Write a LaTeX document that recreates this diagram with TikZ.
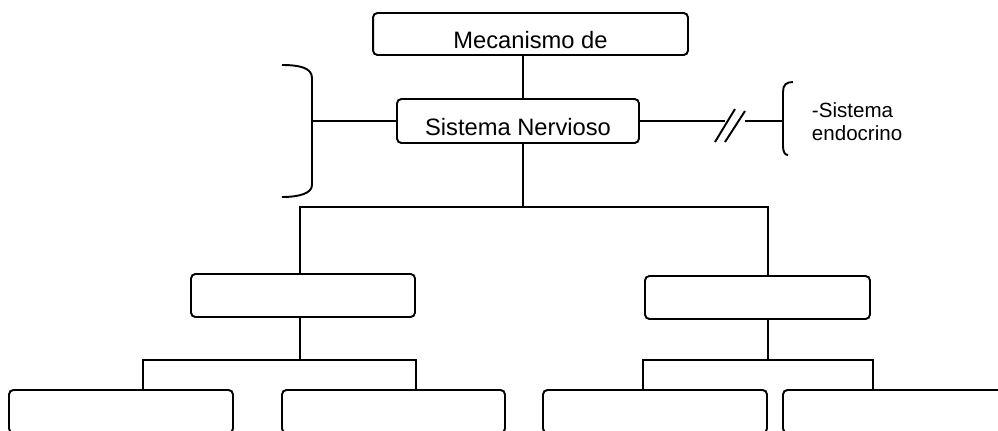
\documentclass[tikz,border=0pt]{standalone}
\usepackage{fontspec}
\setmainfont{Liberation Sans}
\begin{document}
\begin{tikzpicture}[x=0.02cm,y=-0.02cm,line width=1.1pt]
	\useasboundingbox (0,0) rectangle (998,430);
	\tikzstyle{every node}=[font=\fontsize{13.5}{16}\selectfont];
	\tikzstyle{caja}=[draw,rounded corners=2.5pt,inner sep=0pt,text height=16pt,text depth=0pt,minimum width=4.48cm,minimum height=0.86cm];
	% cajas
	\path (530.5,34) node[caja,minimum width=6.3cm,minimum height=0.84cm] (mec) {Mecanismo de};
	\path (518,121) node[caja,minimum width=4.84cm,minimum height=0.88cm] (sn) {Sistema Nervioso};
	\path (303,295.5) node[caja] (lm) {};
	\path (757.5,297.5) node[caja,minimum width=4.5cm] (rm) {};
	\path (121,411.5) node[caja] (ll) {};
	\path (393.5,411.5) node[caja,minimum width=4.46cm] (lr) {};
	\path (655,411.5) node[caja] (rl) {};
	\path (895,411.5) node[caja] (rr) {};
	\path (811,122) node[anchor=west,inner sep=0pt,align=left,font=\fontsize{11.7}{13}\selectfont] (endo) {-Sistema\\endocrino};
	% puntos de union
	\coordinate (eje) at (523,0);
	\coordinate (barI) at (300,207);
	\coordinate (barD) at (768,207);
	\coordinate (bI1) at (143,360);
	\coordinate (bI2) at (416,360);
	\coordinate (bD1) at (643,360);
	\coordinate (bD2) at (873,360);
	\coordinate (llave) at (312,121);
	\coordinate (cutA) at (725,121);
	\coordinate (cutB) at (745,121);
	\coordinate (rllave) at (783,121);
	% llaves
	\draw (282,65) .. controls (300,65) and (312,68) .. (312,78) -- (312,185) .. controls (312,193) and (300,197) .. (282,197);
	\draw (793,82) .. controls (786,82) and (783,85) .. (783,92) -- (783,146) .. controls (783,152) and (785,155) .. (788,155);
	\draw (llave) -- (sn.west);
	\draw (sn.east) -- (cutA);
	\draw (cutB) -- (rllave);
	\draw (715,142) -- (735,109);
	\draw (725,142) -- (745,111);
	% arbol
	\draw (eje |- mec.south) -- (eje |- sn.north);
	\draw (eje |- sn.south) -- (eje |- barI);
	\draw (lm.north -| barI) -- (barI) -- (barD) -- (rm.north -| barD);
	\draw (lm.south -| barI) -- (barI |- bI1);
	\draw (ll.north -| bI1) -- (bI1) -- (bI2) -- (lr.north -| bI2);
	\draw (rm.south -| barD) -- (barD |- bD1);
	\draw (rl.north -| bD1) -- (bD1) -- (bD2) -- (rr.north -| bD2);
\end{tikzpicture}
\end{document}
